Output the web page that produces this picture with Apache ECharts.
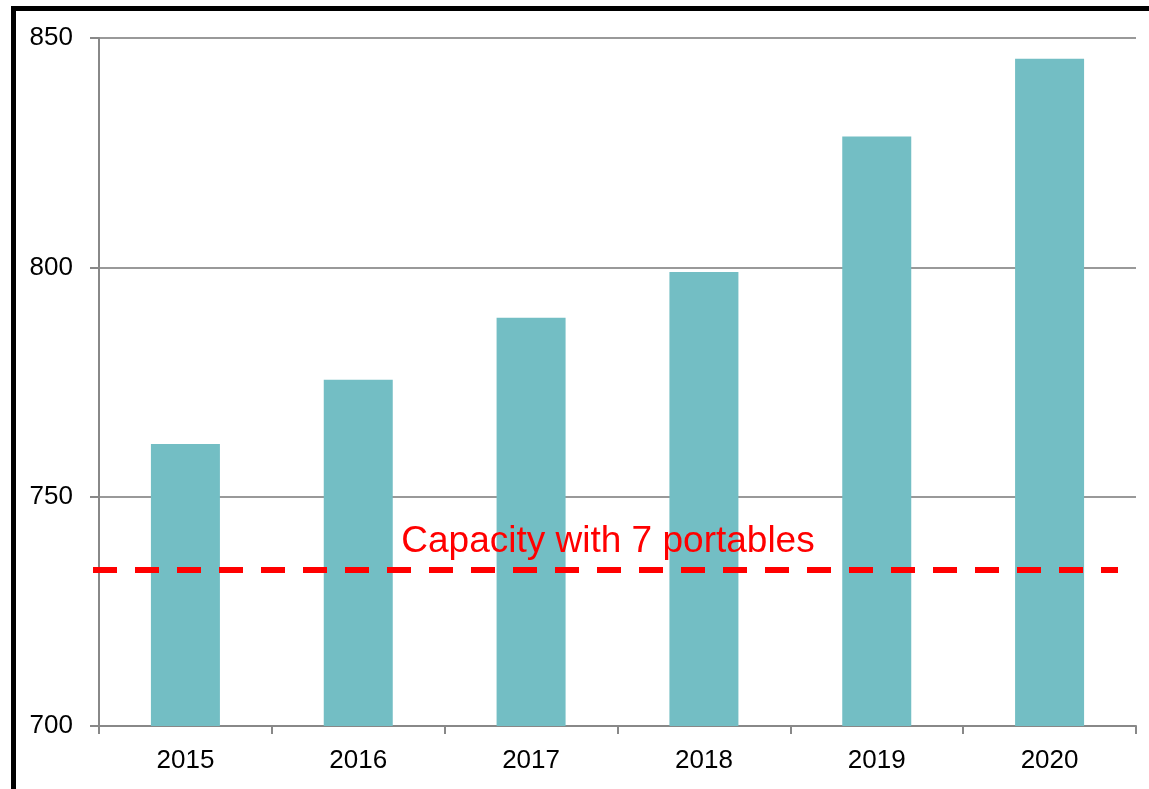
<!DOCTYPE html>
<html>
<head>
<meta charset="utf-8">
<script src="https://cdn.jsdelivr.net/npm/echarts@6/dist/echarts.min.js"></script>
<style>html,body{margin:0;padding:0;background:#fff;}#c{width:1149px;height:789px;}</style>
</head>
<body>
<div id="c"></div>
<script>
const categories = ['2015', '2016', '2017', '2018', '2019', '2020'];
const enrollment = [761.5, 775.5, 789, 799, 828.5, 845.5];
const capacityValue = 734;
const capacityLabel = 'Capacity with 7 portables';
const yTicks = [700, 750, 800, 850];

const chart = echarts.init(document.getElementById('c'), null, {renderer: 'canvas'});
const font = 'Liberation Sans, Arial, sans-serif';
chart.setOption({
  animation: false,
  backgroundColor: '#fff',
  grid: {left: 99, right: 13, top: 38, bottom: 63},
  xAxis: {
    type: 'category',
    data: categories,
    axisLine: {show: true, lineStyle: {color: '#888', width: 2}},
    axisTick: {show: true, length: 8, lineStyle: {color: '#888', width: 2}},
    axisLabel: {color: '#000', fontSize: 26, fontFamily: font, margin: 22}
  },
  yAxis: {
    type: 'value',
    min: yTicks[0],
    max: yTicks[yTicks.length - 1],
    interval: 50,
    axisLine: {show: true, lineStyle: {color: '#888', width: 2}},
    axisTick: {show: true, inside: false, length: 9, lineStyle: {color: '#888', width: 2}},
    axisLabel: {color: '#000', fontSize: 26, fontFamily: font, margin: 26},
    splitLine: {show: true, lineStyle: {color: '#999', width: 2}}
  },
  series: [{
    type: 'bar',
    data: enrollment,
    barWidth: 69,
    itemStyle: {color: '#73BEC4'}
  }]
});

const yPix = chart.convertToPixel({yAxisIndex: 0}, capacityValue);
chart.setOption({
  graphic: [
    {type: 'rect', shape: {x: 13.5, y: 8.5, width: 1200, height: 900}, style: {fill: null, stroke: '#000', lineWidth: 5}, z: 100},
    {type: 'line', shape: {x1: 93, y1: yPix, x2: 1118, y2: yPix}, style: {stroke: '#FF0000', lineWidth: 6, lineDash: [24, 18]}, z: 50},
    {type: 'text', x: 608, y: yPix - 28, style: {text: capacityLabel, fill: '#FF0000', font: '37px ' + font, textAlign: 'center', textVerticalAlign: 'middle'}, z: 50}
  ]
});
</script>
</body>
</html>
